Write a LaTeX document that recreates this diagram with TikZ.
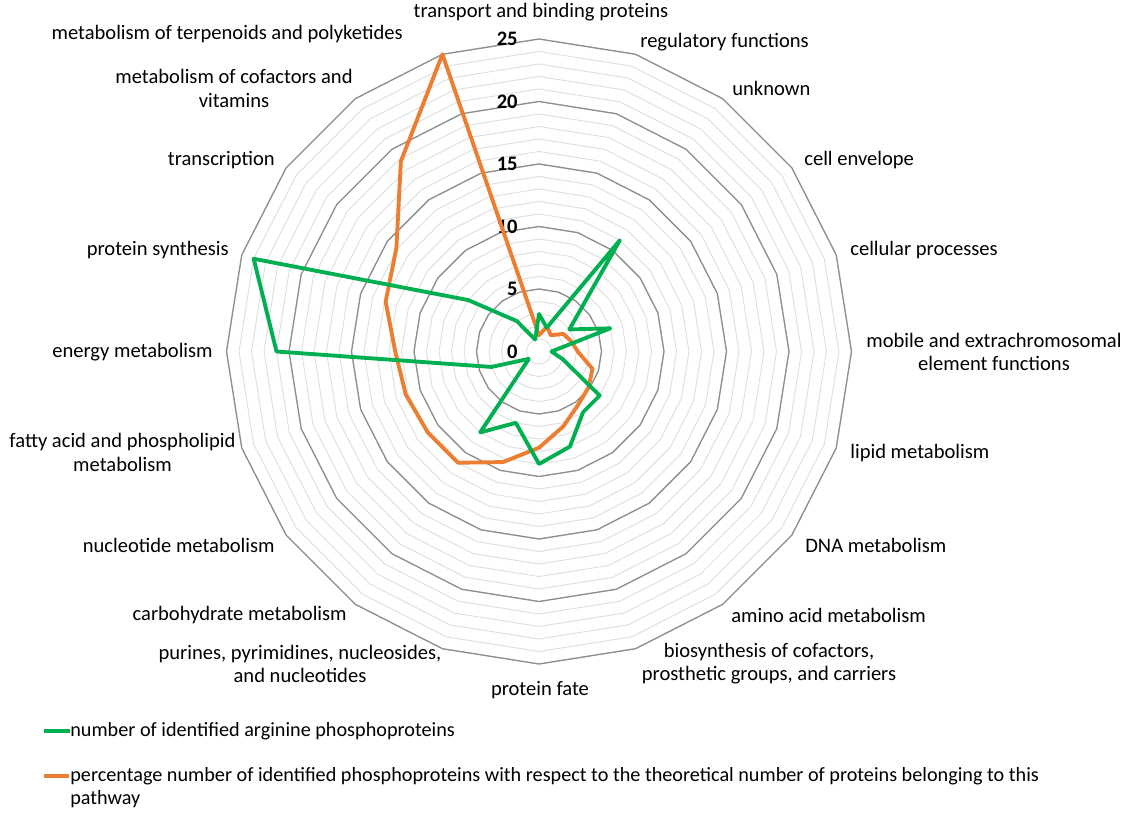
\documentclass[tikz,border=0pt]{standalone}
\usepackage{fontspec}
\setmainfont{Carlito}
\definecolor{seriesgreen}{HTML}{00B050}
\definecolor{seriesorange}{HTML}{ED7D31}
\definecolor{minorgray}{HTML}{DDDDDD}
\definecolor{majorgray}{HTML}{8E8E8E}

\begin{document}
\begin{tikzpicture}[
  font=\fontsize{11.7}{13.2}\selectfont,
  minorring/.style={minorgray,line width=0.5pt},
  majorring/.style={majorgray,line width=0.75pt},
  series/.style={line width=2.2pt,line join=round},
  catlabel/.style={inner sep=0pt,align=center},
  legendlabel/.style={inner sep=0pt,anchor=west,align=left,font=\fontsize{11.5}{13.2}\selectfont},
  ticklabel/.style={anchor=east,inner sep=0pt,font=\fontsize{11.7}{13.2}\selectfont\bfseries}
]
  \useasboundingbox (-10.78,-9.25) rectangle (11.7,7.03);

  % Draw the minor rings (one per unit)
  \foreach \r in {1,...,25}
    \draw[minorring] (90:{\r*0.25}) \foreach \k in {1,...,19} { -- ({90-18*\k}:{\r*0.25}) } -- cycle;

  % Draw the major rings (every 5)
  \foreach \r in {5,10,...,25}
    \draw[majorring] (90:{\r*0.25}) \foreach \k in {1,...,19} { -- ({90-18*\k}:{\r*0.25}) } -- cycle;

  % Axis values
  \foreach \v in {0,5,...,25}
    \node[ticklabel] (tick\v) at (-0.42,{\v*0.25}) {\v};

  % Draw the percentage series
  \draw[series,seriesorange] (90:0.325) \foreach \v [count=\i] in {2.1,1.6,2.4,2.7,3.1,4.5,4.9,5.3,6.3,7.7,9.3,11,11,11.2,11.5,12.9,14.1,18.8,25} { -- ({90-18*\i}:{\v*0.25}) } -- cycle;

  % Draw the arginine phosphoprotein series
  \draw[series,seriesgreen] (90:0.75) \foreach \v [count=\i] in {2,11,3,6,1,2,6,6,8,9,6,8,1,4,21,24,7,3,1} { -- ({90-18*\i}:{\v*0.25}) } -- cycle;

  % Category labels
  \node[catlabel] (transport) at (0.04,6.79) {transport and binding proteins};
  \node[catlabel,anchor=west] (regulatory) at (2.02,6.19) {regulatory functions};
  \node[catlabel,anchor=west] (unknown) at (3.86,5.27) {unknown};
  \node[catlabel,anchor=west] (envelope) at (5.30,3.83) {cell envelope};
  \node[catlabel,anchor=west] (cellular) at (6.22,2.03) {cellular processes};
  \node[catlabel] (mobile) at (9.10,-0.01) {mobile and extrachromosomal\\element functions};
  \node[catlabel,anchor=west] (lipid) at (6.22,-2.03) {lipid metabolism};
  \node[catlabel,anchor=west] (dna) at (5.32,-3.87) {DNA metabolism};
  \node[catlabel,anchor=west] (aminoacid) at (3.84,-5.27) {amino acid metabolism};
  \node[catlabel] (biosynthesis) at (4.60,-6.25) {biosynthesis of cofactors,\\prosthetic groups, and carriers};
  \node[catlabel] (fate) at (0.02,-6.77) {protein fate};
  \node[catlabel] (purines) at (-4.78,-6.25) {purines, pyrimidines, nucleosides,\\and nucleotides};
  \node[catlabel,anchor=east] (carbohydrate) at (-3.84,-5.27) {carbohydrate metabolism};
  \node[catlabel,anchor=east] (nucleotide) at (-5.28,-3.87) {nucleotide metabolism};
  \node[catlabel] (fattyacid) at (-8.33,-2.02) {fatty acid and phospholipid\\metabolism};
  \node[catlabel,anchor=east] (energy) at (-6.52,-0.01) {energy metabolism};
  \node[catlabel,anchor=east] (synthesis) at (-6.20,2.03) {protein synthesis};
  \node[catlabel,anchor=east] (transcription) at (-5.28,3.83) {transcription};
  \node[catlabel] (cofactors) at (-6.10,5.26) {metabolism of cofactors and\\vitamins};
  \node[catlabel,anchor=east] (terpenoids) at (-2.72,6.35) {metabolism of terpenoids and polyketides};

  % Legend
  \node[legendlabel] (greenkey) at (-9.38,-7.59) {number of identified arginine phosphoproteins};
  \draw[series,seriesgreen,line cap=butt] (-9.9,-7.59) -- (greenkey.west);
  \node[legendlabel] (orangekey) at (-9.38,-8.73) {percentage number of identified phosphoproteins with respect to the theoretical number of proteins belonging to this\\pathway};
  \draw[series,seriesorange,line cap=butt] (-9.9,-8.49) -- (-9.40,-8.49);
\end{tikzpicture}
\end{document}
